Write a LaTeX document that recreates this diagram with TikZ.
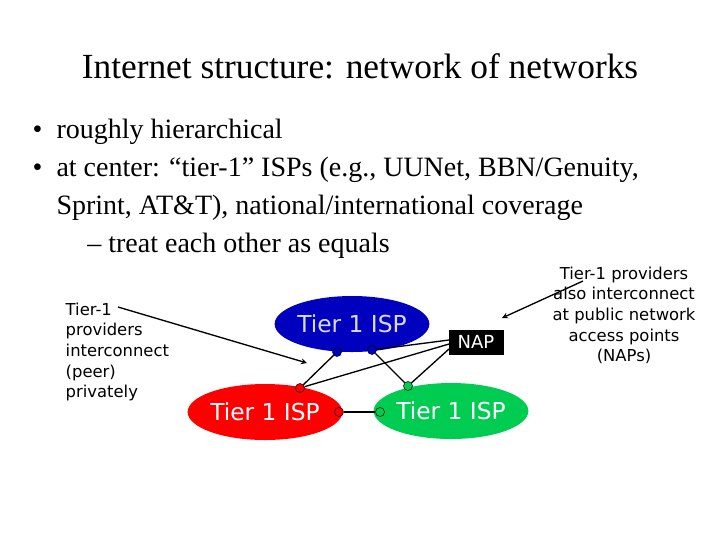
\documentclass[tikz,border=0pt]{standalone}
\usepackage{fontspec}
\setmainfont{Liberation Serif}
\newfontfamily\dv{DejaVu Sans}
\usetikzlibrary{shapes.geometric}
\begin{document}
\begin{tikzpicture}[x=0.75pt,y=-0.75pt,
 isp/.style={ellipse,minimum width=146*0.75pt,minimum height=56*0.75pt,inner sep=0pt,font=\dv\fontsize{17.5}{20}\selectfont},
 dot/.style={circle,draw=black,inner sep=0pt,minimum size=9*0.75pt},
 ln/.style={line width=1pt},
 side/.style={font=\dv\fontsize{12.3}{15.5}\selectfont,align=left}]
\useasboundingbox (0,0) rectangle (720,540);
\node (title) at (360,66) {\fontsize{26.5}{30}\selectfont Internet structure: network of networks};
\node[anchor=north west,align=left,font=\fontsize{21}{28.5}\selectfont] (bul) at (28,114) {%
\textbullet\ \ roughly hierarchical\\
\textbullet\ \ at center: ``tier-1'' ISPs (e.g., UUNet, BBN/Genuity,\\
\hphantom{\textbullet\ \ }Sprint, AT\&T), national/international coverage\\
\hphantom{\textbullet\ \ }\hspace{1.1em}-- treat each other as equals};
\node[isp,fill=blue!75!black,text=white!85!blue] (b) at (352,324) {Tier 1 ISP};
\node[isp,fill=red,text=white] (r) at (265,412) {Tier 1 ISP};
\node[isp,fill=green!60!cyan!80!black,text=white] (g) at (451,411) {Tier 1 ISP};
\node[fill=black,text=white,font=\dv\fontsize{13.5}{15}\selectfont,minimum width=55*0.75pt,minimum height=25*0.75pt,inner sep=0pt] (nap) at (476,342) {NAP};
\node[dot,fill=blue!75!black] (b1) at (337,352) {};
\node[dot,fill=blue!75!black] (b2) at (372,350) {};
\node[dot,fill=red] (r1) at (300,388) {};
\node[dot,fill=red] (r2) at (339,412) {};
\node[dot,fill=green!60!cyan!80!black] (g1) at (408,386) {};
\node[dot,fill=green!60!cyan!80!black] (g2) at (380,412) {};
\coordinate (n1) at (449,340);
\coordinate (n2) at (449,344);
\coordinate (n3) at (449,349);
\draw[ln] (b1) -- (r1);
\draw[ln] (b2) -- (g1);
\draw[ln] (b2) -- (n1);
\draw[ln] (r1) -- (n2);
\draw[ln] (g1) -- (n3);
\draw[ln] (r2) -- (g2);
\node[side,anchor=north west] (lt) at (61,298) {Tier-1\\providers\\interconnect\\(peer)\\privately};
\node[side,anchor=north,align=center] (rt) at (624,262) {Tier-1 providers\\also interconnect\\at public network\\access points\\(NAPs)};
\coordinate (la) at (307,363);
\coordinate (ra) at (502,318);
\draw[ln,-stealth] (118,307) -- (la);
\draw[ln,-stealth] (583,281) -- (ra);
\end{tikzpicture}
\end{document}
